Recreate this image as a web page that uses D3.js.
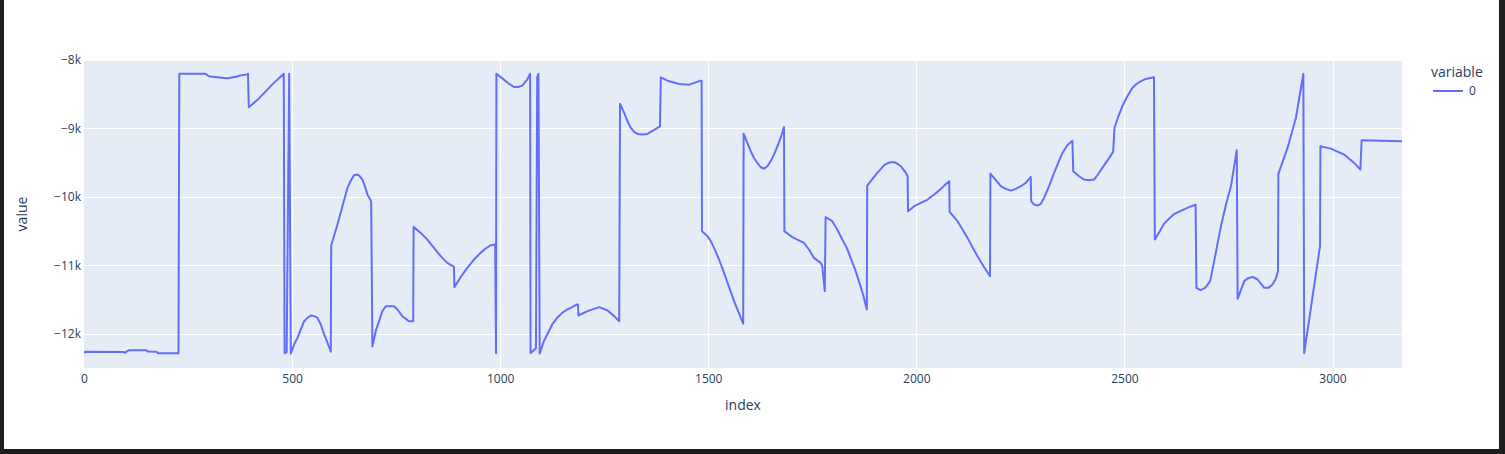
<!DOCTYPE html>
<html>
<head>
<meta charset="utf-8">
<script src="https://cdn.jsdelivr.net/npm/d3@7"></script>
<style>
  html, body { margin: 0; padding: 0; background: #1e1e1e; }
  svg { display: block; }
  text { font-family: "Open Sans", verdana, arial, sans-serif; fill: #2a3f5f; }
</style>
</head>
<body>
<svg id="chart" width="1505" height="454"></svg>
<script>
// ---- data ----
const indexValues = [0,3,96,98,102,108,150,153,174,178,227,229,292,300,335,345,368,372,392,394,396,420,452,480,482,487,493,497,505,513,521,529,537,545,553,561,569,577,585,593,594,609,621,633,641,649,657,663,669,675,681,690,693,701,709,717,725,745,753,765,781,791,792,809,825,841,857,873,889,890,905,921,937,953,965,977,988,990,991,1009,1021,1033,1043,1053,1065,1072,1073,1086,1089,1092,1095,1105,1113,1125,1137,1149,1161,1173,1185,1187,1188,1210,1238,1258,1274,1286,1288,1298,1306,1314,1322,1330,1342,1354,1362,1374,1384,1386,1402,1430,1454,1482,1484,1485,1498,1506,1514,1526,1538,1562,1584,1585,1602,1610,1618,1626,1634,1642,1650,1658,1666,1674,1682,1683,1702,1730,1742,1754,1770,1774,1780,1782,1798,1810,1822,1833,1842,1853,1862,1872,1881,1882,1906,1915,1922,1930,1939,1947,1955,1963,1969,1975,1979,1980,1995,2027,2043,2059,2067,2079,2080,2099,2111,2123,2135,2147,2163,2177,2178,2203,2215,2227,2239,2251,2263,2275,2276,2283,2291,2299,2307,2319,2331,2351,2363,2375,2377,2391,2403,2415,2427,2435,2447,2459,2473,2476,2484,2495,2507,2519,2527,2539,2551,2571,2573,2585,2595,2609,2620,2637,2651,2671,2673,2683,2694,2706,2714,2732,2744,2756,2770,2772,2788,2796,2808,2820,2836,2846,2856,2864,2869,2870,2892,2912,2930,2932,2970,2971,2996,3028,3052,3067,3070,3167];
const seriesValues = [-12280,-12262,-12265,-12280,-12262,-12240,-12240,-12260,-12262,-12285,-12285,-8200,-8200,-8238,-8262,-8268,-8242,-8230,-8210,-8200,-8690,-8565,-8360,-8200,-12283,-12270,-8200,-12290,-12156,-12059,-11937,-11816,-11767,-11733,-11742,-11767,-11864,-12010,-12131,-12263,-10711,-10404,-10136,-9869,-9762,-9684,-9674,-9699,-9747,-9844,-9966,-10063,-12185,-11962,-11816,-11669,-11597,-11597,-11645,-11743,-11816,-11816,-10438,-10526,-10623,-10745,-10866,-10964,-11022,-11318,-11173,-11037,-10915,-10818,-10754,-10706,-10696,-12283,-8200,-8287,-8346,-8394,-8394,-8375,-8287,-8200,-12283,-12210,-8250,-8200,-12290,-12107,-12010,-11864,-11767,-11694,-11645,-11611,-11572,-11572,-11733,-11669,-11611,-11660,-11742,-11816,-8638,-8774,-8895,-8993,-9051,-9080,-9090,-9080,-9051,-9007,-8969,-8253,-8302,-8350,-8360,-8302,-8302,-10501,-10574,-10647,-10745,-10915,-11110,-11523,-11850,-9076,-9333,-9431,-9504,-9567,-9587,-9552,-9480,-9382,-9261,-9139,-8978,-10501,-10588,-10672,-10769,-10891,-10964,-11012,-11377,-10297,-10355,-10477,-10623,-10745,-10891,-11062,-11231,-11426,-11645,-9835,-9650,-9591,-9538,-9509,-9494,-9494,-9518,-9552,-9601,-9650,-9699,-10209,-10136,-10039,-9966,-9883,-9835,-9771,-10219,-10355,-10477,-10599,-10735,-10866,-11027,-11158,-9660,-9844,-9883,-9908,-9883,-9844,-9796,-9708,-10063,-10112,-10127,-10102,-10015,-9844,-9650,-9358,-9245,-9178,-9625,-9699,-9747,-9757,-9747,-9684,-9577,-9470,-9343,-8993,-8847,-8676,-8530,-8409,-8360,-8311,-8277,-8253,-10623,-10501,-10394,-10307,-10248,-10200,-10161,-10112,-11329,-11363,-11329,-11231,-10989,-10428,-10112,-9844,-9318,-11489,-11231,-11192,-11168,-11207,-11329,-11329,-11280,-11192,-11085,-9664,-9285,-8847,-8204,-12283,-10720,-9261,-9295,-9382,-9504,-9601,-9173,-9187];
const xTickValues = [0, 500, 1000, 1500, 2000, 2500, 3000];
const yTickValues = [-12000, -11000, -10000, -9000, -8000];
const yTickLabels = ["\u221212k", "\u221211k", "\u221210k", "\u22129k", "\u22128k"];
const seriesName = "0";
const legendTitle = "variable";

// ---- layout ----
const W = 1505, H = 454;
const plot = { left: 84, top: 60, right: 1402, bottom: 368 };
const svg = d3.select("#chart");

// page / frame
svg.append("rect").attr("x", 0).attr("y", 0).attr("width", W).attr("height", H).attr("fill", "#1e1e1e");
svg.append("rect").attr("x", 4).attr("y", 0).attr("width", 1495).attr("height", 449).attr("fill", "#ffffff");

const x = d3.scaleLinear().domain([0, 3167]).range([plot.left, plot.right]);
const y = d3.scaleLinear().domain([-12500, -8000]).range([plot.bottom, plot.top]);

// plot background
svg.append("rect")
  .attr("x", plot.left).attr("y", plot.top)
  .attr("width", plot.right - plot.left).attr("height", plot.bottom - plot.top)
  .attr("fill", "#E5ECF6");

// grid
const grid = svg.append("g");
grid.selectAll("line.gx").data(xTickValues.filter(d => d > 0)).join("line")
  .attr("x1", d => Math.round(x(d)) + 0.5).attr("x2", d => Math.round(x(d)) + 0.5)
  .attr("y1", plot.top).attr("y2", plot.bottom)
  .attr("stroke", "#ffffff").attr("stroke-width", 1);
grid.selectAll("line.gy").data(yTickValues).join("line")
  .attr("y1", d => Math.round(y(d)) + 0.5).attr("y2", d => Math.round(y(d)) + 0.5)
  .attr("x1", plot.left).attr("x2", plot.right)
  .attr("stroke", "#ffffff").attr("stroke-width", 1);

// axes (labels only, via d3 axes)
const xAxis = d3.axisBottom(x).tickValues(xTickValues).tickSize(0).tickPadding(6).tickFormat(d3.format("d"));
const gx = svg.append("g").attr("transform", `translate(0,${plot.bottom})`).call(xAxis);
gx.select(".domain").remove();
gx.selectAll("text").attr("font-size", 12).attr("fill", "#2a3f5f")
  .attr("font-family", '"Open Sans", verdana, arial, sans-serif');

const yAxis = d3.axisLeft(y).tickValues(yTickValues).tickSize(0).tickPadding(3)
  .tickFormat((d, i) => yTickLabels[i]);
const gy = svg.append("g").attr("transform", `translate(${plot.left},0)`).call(yAxis);
gy.select(".domain").remove();
gy.selectAll("text").attr("font-size", 12).attr("fill", "#2a3f5f")
  .attr("font-family", '"Open Sans", verdana, arial, sans-serif');

// clip + line
svg.append("clipPath").attr("id", "clip").append("rect")
  .attr("x", plot.left).attr("y", plot.top)
  .attr("width", plot.right - plot.left).attr("height", plot.bottom - plot.top);

const pts = indexValues.map((d, i) => [d, seriesValues[i]]);
const line = d3.line().x(d => x(d[0])).y(d => y(d[1]));
svg.append("path").datum(pts)
  .attr("clip-path", "url(#clip)")
  .attr("d", line)
  .attr("fill", "none")
  .attr("stroke", "#636efa")
  .attr("stroke-width", 2)
  .attr("stroke-linejoin", "round");

// axis titles
svg.append("text").attr("x", (plot.left + plot.right) / 2).attr("y", 410)
  .attr("text-anchor", "middle").attr("font-size", 14).text("index");
svg.append("text")
  .attr("transform", `translate(27,${(plot.top + plot.bottom) / 2}) rotate(-90)`)
  .attr("text-anchor", "middle").attr("font-size", 14).text("value");

// legend
const lg = svg.append("g");
lg.append("text").attr("x", 1431).attr("y", 77).attr("font-size", 14).text(legendTitle);
lg.append("line").attr("x1", 1433).attr("x2", 1463).attr("y1", 91).attr("y2", 91)
  .attr("stroke", "#636efa").attr("stroke-width", 2);
lg.append("text").attr("x", 1469).attr("y", 95).attr("font-size", 12).text(seriesName);
</script>
</body>
</html>
